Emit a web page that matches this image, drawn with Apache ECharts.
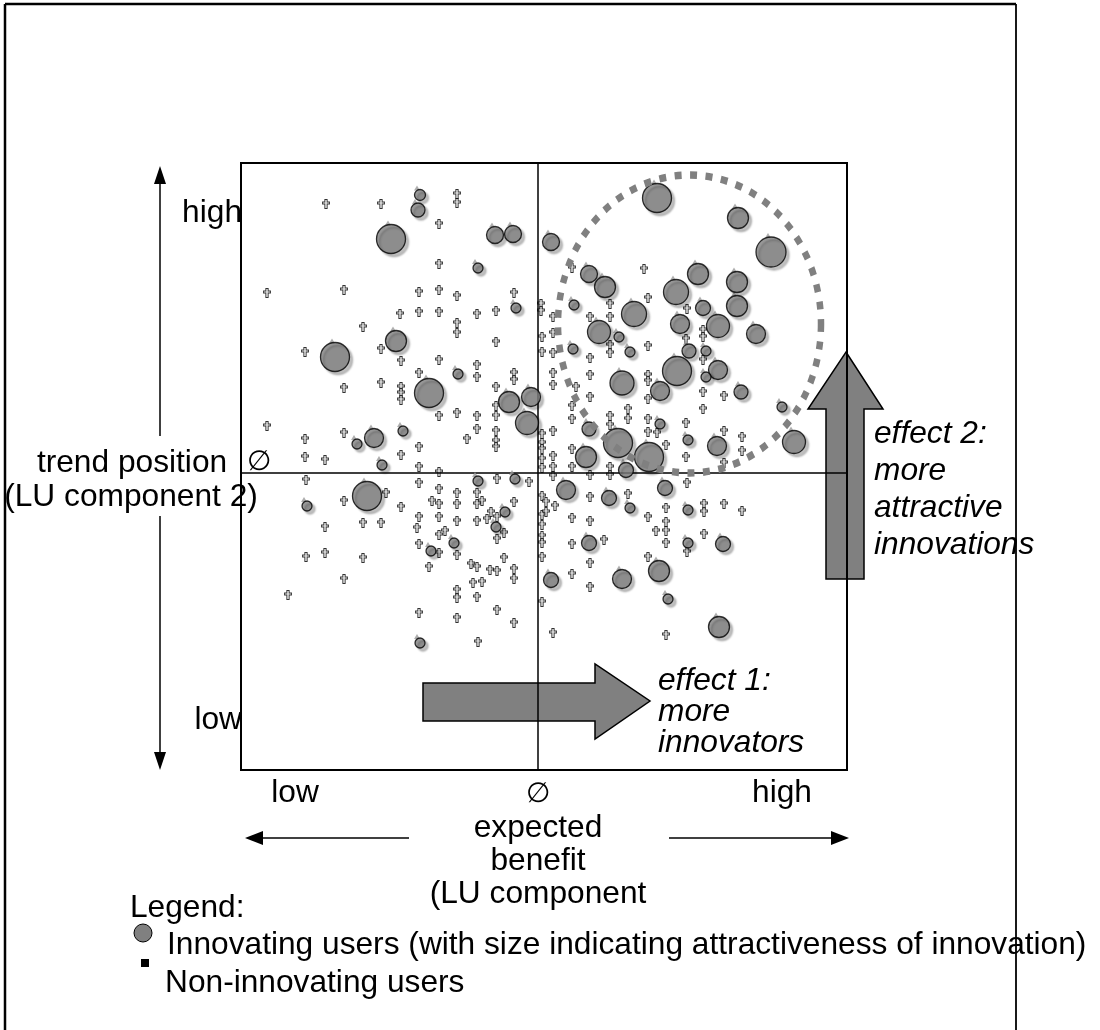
<!DOCTYPE html>
<html>
<head>
<meta charset="utf-8">
<script src="https://cdn.jsdelivr.net/npm/echarts@6/dist/echarts.min.js"></script>
<style>html,body{margin:0;padding:0;background:#fff}#c{width:1100px;height:1030px}</style>
</head>
<body>
<div id="c"></div>
<script>
// expected benefit (x), trend position (y), attractiveness of innovation (radius of bubble)
const innovators = [
  [-118,278,6],[-120,263,7.5],[-147,234,15],[-43,238,9],[-25,239,9],[-60,205,5.5],[-22,165,5.5],
  [119,275,15],[200,255,11],[233,221,15.5],[13,231,9],[51,199,9],[67,186,11],[160,199,11],
  [199,191,11],[138,181,13],[199,167,11],[165,165,8],[36,168,5.5],[96,159,13],[61,141,12],
  [81,136,5.5],[142,149,10],[180,147,12],[218,139,10],[35,124,5.5],[92,121,5.5],[151,122,7.5],
  [168,122,5.5],[139,102,15],[180,103,10],[168,96,5.5],[84,90,12.5],[122,82,10],[203,81,7.5],
  [244,66,5.5],[51,44,7.5],[122,49,5.5],[80,30,15],[111,16,15],[48,16,11],[88,3,8],[150,33,5.5],
  [179,27,10],[256,31,12],[-203,116,15],[-142,132,11],[-109,80,15],[-80,99,5.5],[-29,71,11],
  [-7,76,10],[-11,50,12],[-164,35,10],[-181,29,5.5],[-135,42,5.5],[-156,8,5.5],[-171,-23,15],
  [-231,-33,5.5],[-60,-8,5.5],[-23,-6,5.5],[-33,-39,5.5],[-42,-54,5.5],[-84,-70,5.5],[-107,-78,5.5],
  [-118,-170,5.5],[28,-17,10],[71,-25,8],[92,-35,5.5],[127,-15,8],[150,-37,5.5],[51,-70,8],
  [150,-70,5.5],[185,-71,8],[13,-107,8],[84,-106,10],[121,-98,11],[130,-126,5.5],[181,-154,11]
];
const nonInnovators = [
  [-212,269],[-157,269],[-81,279],[-81,270],[-99,249],[-99,209],[-271,180],[-194,183],[-119,181],[-99,183],
  [-81,177],[-24,180],[-138,159],[-119,161],[-99,161],[-61,159],[-42,162],
  [34,205],[106,204],[110,175],[72,169],[3,169],[3,162],[149,164],[52,156],[72,156],[15,156],
  [-175,146],[-81,150],[-81,140],[-42,131],[-233,121],[-157,124],[-137,112],[-99,113],[-61,108],[-61,96],
  [-24,100],[-24,93],[-119,100],[-194,85],[-157,90],[-137,86],[-137,80],[-137,73],[-42,86],[-42,67],
  [-99,57],[-81,60],[-61,57],[-42,57],[-271,47],[-233,34],[-194,40],[-61,44],[-42,42],[-42,32],
  [-42,26],[-71,34],[-119,26],[-233,16],[-213,13],[-137,18],[-119,6],[-99,1],
  [4,136],[15,140],[4,121],[15,120],[72,128],[72,120],[52,115],[110,127],[148,134],[165,143],
  [165,136],[165,113],[15,100],[15,88],[52,98],[38,86],[52,76],[110,98],[110,92],[110,74],
  [165,81],[165,64],[186,77],[34,67],[34,54],[90,64],[90,54],[72,57],[72,48],[110,54],
  [110,41],[119,40],[148,50],[4,39],[15,42],[4,30],[4,24],[15,17],[4,14],[4,5],
  [34,24],[34,6],[72,6],[128,28],[148,16],[186,42],[204,36],[204,22],[186,10],[15,6],
  [-232,-7],[-119,-10],[-41,-6],[-9,-9],[-99,-16],[-81,-20],[-152,-20],[-194,-28],[-137,-34],[-106,-28],
  [-99,-31],[-81,-31],[-61,-20],[-61,-31],[-56,-28],[-24,-29],[-213,-54],[-175,-50],[-157,-50],[-119,-44],
  [-99,-44],[-81,-48],[-61,-48],[-51,-46],[-47,-39],[-41,-44],[-121,-55],[-99,-62],[-93,-58],[-34,-60],
  [-41,-66],[-119,-71],[-232,-84],[-213,-80],[-175,-85],[-99,-80],[-81,-82],[-34,-85],[-109,-94],[-67,-91],
  [-61,-94],[-48,-97],[-41,-98],[-24,-96],[-24,-106],[-194,-106],[-65,-110],[-56,-109],[-81,-117],[-81,-125],
  [-61,-124],[-250,-122],[-119,-140],[-81,-145],[-41,-137],[-24,-150],[-60,-169],
  [15,-3],[52,-2],[72,-2],[4,-23],[8,-29],[17,-33],[4,-42],[8,-39],[4,-52],[4,-63],
  [4,-70],[4,-84],[34,-45],[52,-48],[52,-24],[90,-21],[34,-71],[66,-67],[52,-90],[34,-101],
  [52,-114],[4,-129],[15,-160],[110,-44],[128,-35],[128,-49],[118,-58],[128,-58],[128,-70],[110,-84],
  [149,-10],[149,-79],[166,-31],[166,-39],[186,-31],[204,-38],[166,-61],[128,-162]
];
const xRange = [-297, 309];
const yRange = [-297, 310];
const xTickLabels = ['low', '\u2205', 'high'];
const yTickLabels = ['high', 'low'];
const xTitle = ['expected', 'benefit', '(LU component'];
const yTitle = ['trend position', '(LU component 2)'];
const effect1 = ['effect 1:', 'more', 'innovators'];
const effect2 = ['effect 2:', 'more', 'attractive', 'innovations'];
const legendTitle = 'Legend:';
const seriesNames = ['Innovating users (with size indicating attractiveness of innovation)', 'Non-innovating users'];

const FONT = '"Liberation Sans", Arial, Helvetica, sans-serif';
const FS = 31.7;
const GRAY = '#808080';

function txt(text, x, y, align, extra) {
  return {
    type: 'text', x: x, y: y, z: 10, silent: true,
    style: Object.assign({
      text: text, fill: '#000', fontSize: FS, fontFamily: FONT,
      textAlign: align || 'center', textVerticalAlign: 'middle'
    }, extra || {})
  };
}
function line(x1, y1, x2, y2, w) {
  return { type: 'line', z: 10, silent: true, shape: { x1, y1, x2, y2 }, style: { stroke: '#000', lineWidth: w || 2 } };
}
function tri(points) {
  return { type: 'polygon', z: 10, silent: true, shape: { points }, style: { fill: '#000' } };
}

const graphics = [
  // outer frame
  line(5, 4, 1016, 4, 2.5), line(5, 4, 5, 1030, 2.5), line(1016, 4, 1016, 1030, 1.8),
  // effect arrows (below axes)
  { type: 'polygon', z: 1, silent: true,
    shape: { points: [[423,683],[595,683],[595,664],[650,701],[595,739],[595,721],[423,721]] },
    style: { fill: GRAY, stroke: '#000', lineWidth: 1.5 } },
  { type: 'polygon', z: 1, silent: true,
    shape: { points: [[846,352],[883,409],[864,409],[864,579],[826,579],[826,409],[808,409]] },
    style: { fill: GRAY, stroke: '#000', lineWidth: 1.5 } },
  // dotted ring round the attractive innovations
  { type: 'circle', z: 6, silent: true, x: 689.5, y: 324, scaleY: 149 / 131.5,
    shape: { cx: 0, cy: 0, r: 131.5 },
    style: { fill: 'none', stroke: GRAY, lineWidth: 6.5, lineDash: [7, 8.5] } },
  // vertical axis arrow
  line(160, 180, 160, 436, 1.5), line(160, 516, 160, 755, 1.5),
  tri([[160,166],[154,184],[166,184]]), tri([[160,770],[154,752],[166,752]]),
  // horizontal axis arrows
  line(262, 838, 409, 838, 1.5), line(669, 838, 832, 838, 1.5),
  tri([[245,838],[263,831],[263,845]]), tri([[849,838],[831,831],[831,845]]),
  // y labels
  txt(yTickLabels[0], 242, 213, 'right'),
  txt(yTickLabels[1], 242, 720, 'right'),
  txt(yTitle[0], 132, 463),
  txt(yTitle[1], 131, 497),
  txt('\u2205', 259, 462, 'center', { fontSize: 28 }),
  // x labels
  txt(xTickLabels[0], 295, 793),
  txt(xTickLabels[1], 538, 794, 'center', { fontSize: 28 }),
  txt(xTickLabels[2], 782, 793),
  txt(xTitle.join('\n'), 538, 812, 'center', { textVerticalAlign: 'top', lineHeight: 33 }),
  // effect texts
  txt(effect1.join('\n'), 658, 666, 'left', { fontStyle: 'italic', textVerticalAlign: 'top', lineHeight: 31 }),
  txt(effect2.join('\n'), 874, 416, 'left', { fontStyle: 'italic', textVerticalAlign: 'top', lineHeight: 37 }),
  // legend
  txt(legendTitle, 130, 908, 'left'),
  { type: 'circle', z: 10, silent: true, shape: { cx: 143, cy: 933, r: 9 }, style: { fill: GRAY, stroke: '#000', lineWidth: 1 } },
  txt(seriesNames[0], 167, 945, 'left'),
  { type: 'rect', z: 10, silent: true, shape: { x: 141, y: 959, width: 8, height: 8 }, style: { fill: '#000' } },
  txt(seriesNames[1], 165, 983, 'left')
];

const chart = echarts.init(document.getElementById('c'));
chart.setOption({
  animation: false,
  backgroundColor: '#fff',
  grid: { left: 241, top: 163, width: 606, height: 607, show: true, z: 3,
          borderColor: '#000', borderWidth: 2, backgroundColor: 'transparent' },
  xAxis: { type: 'value', min: xRange[0], max: xRange[1], z: 3,
           axisLine: { show: true, onZero: true, lineStyle: { color: '#000', width: 1.5 } },
           axisTick: { show: false }, axisLabel: { show: false }, splitLine: { show: false } },
  yAxis: { type: 'value', min: yRange[0], max: yRange[1], z: 3,
           axisLine: { show: true, onZero: true, lineStyle: { color: '#000', width: 1.5 } },
           axisTick: { show: false }, axisLabel: { show: false }, splitLine: { show: false } },
  graphic: { elements: graphics },
  series: [
    {
      name: seriesNames[1], type: 'scatter', z: 2, silent: true,
      data: nonInnovators,
      symbol: 'path://M2,0H4V2.5H6V4.5H4V9H2V4.5H0V2.5H2Z',
      symbolSize: [7, 9],
      itemStyle: { color: '#e6e6e6', borderColor: '#000', borderWidth: 1 }
    },
    {
      name: 'cover', type: 'scatter', z: 3, silent: true,
      data: innovators.map(d => ({ value: [d[0], d[1]], symbolOffset: [-3, -d[2] - 1] })),
      symbol: 'triangle', symbolSize: [6, 5],
      itemStyle: { color: '#9a9a9a' }
    },
    {
      name: seriesNames[0], type: 'scatter', z: 4, silent: true,
      data: innovators,
      symbolSize: d => d[2] * 2 - 1,
      itemStyle: { color: GRAY, borderColor: '#000', borderWidth: 1.3,
                   shadowColor: 'rgba(0,0,0,0.3)', shadowBlur: 2, shadowOffsetX: 3, shadowOffsetY: 3 }
    }
  ]
});
</script>
</body>
</html>
